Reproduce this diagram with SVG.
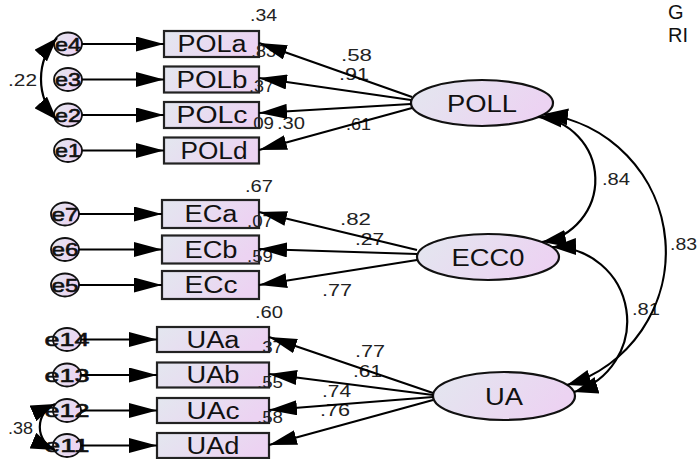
<svg xmlns="http://www.w3.org/2000/svg" width="697" height="459" viewBox="0 0 697 459">
<defs>
<linearGradient id="gf" x1="0" y1="0" x2="1" y2="0.3">
<stop offset="0" stop-color="#e3e7ef"/>
<stop offset="1" stop-color="#ecd3f2"/>
</linearGradient>
<marker id="ah" markerUnits="userSpaceOnUse" markerWidth="30" markerHeight="15" refX="28" refY="7.5" orient="auto-start-reverse" viewBox="0 0 30 15">
<path d="M0,0 L28,7.5 L0,15 z" fill="#000"/>
</marker>
<marker id="ac" markerUnits="userSpaceOnUse" markerWidth="26" markerHeight="17" refX="24" refY="8.5" orient="auto-start-reverse" viewBox="0 0 26 17">
<path d="M0,0 L24,8.5 L0,17 z" fill="#000"/>
</marker>
</defs>
<style>
.box{fill:url(#gf);stroke:#222;stroke-width:2.2}
.lat{fill:url(#gf);stroke:#111;stroke-width:2.2}
.err{fill:url(#gf);stroke:#111;stroke-width:1.8}
.t{font-family:"Liberation Sans",Arial,sans-serif;fill:#111}
.nl{font-size:23px;text-anchor:middle}
.ll{font-size:24px;text-anchor:middle}
.el{font-size:19px;text-anchor:middle;stroke:#111;stroke-width:0.6}
.v{font-size:16px;fill:#222}
.c line,.c path{stroke:#000;stroke-width:2.2;fill:none}
.c line{marker-end:url(#ah)}
.c path.cov{marker-start:url(#ac);marker-end:url(#ac)}
</style>

<!-- latent variables -->
<g id="POLL"><ellipse class="lat" cx="482" cy="103" rx="71" ry="23"/><text class="t ll" x="482" y="112" textLength="70" lengthAdjust="spacingAndGlyphs">POLL</text></g>
<g id="ECC0"><ellipse class="lat" cx="488" cy="257" rx="71" ry="23"/><text class="t ll" x="488" y="266" textLength="73" lengthAdjust="spacingAndGlyphs">ECC0</text></g>
<g id="UA"><ellipse class="lat" cx="504" cy="396" rx="71" ry="24"/><text class="t ll" x="504" y="405" textLength="38" lengthAdjust="spacingAndGlyphs">UA</text></g>

<!-- observed: POLL -->
<g id="POLa"><rect class="box" x="164" y="31" width="95" height="26"/><text class="t nl" x="212" y="52" textLength="69" lengthAdjust="spacingAndGlyphs">POLa</text></g>
<g id="POLb"><rect class="box" x="164" y="66.5" width="95" height="26"/><text class="t nl" x="212" y="87.5" textLength="71" lengthAdjust="spacingAndGlyphs">POLb</text></g>
<g id="POLc"><rect class="box" x="164" y="102" width="95" height="26"/><text class="t nl" x="212" y="123" textLength="71" lengthAdjust="spacingAndGlyphs">POLc</text></g>
<g id="POLd"><rect class="box" x="164" y="137.5" width="95" height="26"/><text class="t nl" x="214" y="158.5" textLength="67" lengthAdjust="spacingAndGlyphs">POLd</text></g>

<!-- observed: ECC0 -->
<g id="ECa"><rect class="box" x="162" y="200" width="97" height="28"/><text class="t nl" x="211" y="222" textLength="53" lengthAdjust="spacingAndGlyphs">ECa</text></g>
<g id="ECb"><rect class="box" x="162" y="235.5" width="97" height="28"/><text class="t nl" x="211" y="257.5" textLength="53" lengthAdjust="spacingAndGlyphs">ECb</text></g>
<g id="ECc"><rect class="box" x="162" y="271" width="97" height="28"/><text class="t nl" x="211" y="293" textLength="53" lengthAdjust="spacingAndGlyphs">ECc</text></g>

<!-- observed: UA -->
<g id="UAa"><rect class="box" x="157" y="327" width="112" height="25"/><text class="t nl" x="213" y="347.5" textLength="53" lengthAdjust="spacingAndGlyphs">UAa</text></g>
<g id="UAb"><rect class="box" x="157" y="362.5" width="112" height="25"/><text class="t nl" x="213" y="383" textLength="53" lengthAdjust="spacingAndGlyphs">UAb</text></g>
<g id="UAc"><rect class="box" x="157" y="398" width="112" height="25"/><text class="t nl" x="213" y="418.5" textLength="53" lengthAdjust="spacingAndGlyphs">UAc</text></g>
<g id="UAd"><rect class="box" x="157" y="433" width="112" height="25"/><text class="t nl" x="213" y="453.5" textLength="53" lengthAdjust="spacingAndGlyphs">UAd</text></g>

<!-- error terms -->
<g id="e4"><ellipse class="err" cx="68" cy="44" rx="14" ry="11.5"/><text class="t el" x="68" y="50.5" textLength="26" lengthAdjust="spacingAndGlyphs">e4</text></g>
<g id="e3"><ellipse class="err" cx="68" cy="79.5" rx="14" ry="11.5"/><text class="t el" x="68" y="86" textLength="26" lengthAdjust="spacingAndGlyphs">e3</text></g>
<g id="e2"><ellipse class="err" cx="68" cy="115" rx="14" ry="11.5"/><text class="t el" x="68" y="121.5" textLength="26" lengthAdjust="spacingAndGlyphs">e2</text></g>
<g id="e1"><ellipse class="err" cx="68" cy="150.5" rx="14" ry="11.5"/><text class="t el" x="68" y="157" textLength="26" lengthAdjust="spacingAndGlyphs">e1</text></g>
<g id="e7"><ellipse class="err" cx="65" cy="214" rx="14" ry="11.5"/><text class="t el" x="65" y="220.5" textLength="27" lengthAdjust="spacingAndGlyphs">e7</text></g>
<g id="e6"><ellipse class="err" cx="65" cy="249.5" rx="14" ry="11.5"/><text class="t el" x="65" y="256" textLength="27" lengthAdjust="spacingAndGlyphs">e6</text></g>
<g id="e5"><ellipse class="err" cx="65" cy="285" rx="14" ry="11.5"/><text class="t el" x="65" y="291.5" textLength="27" lengthAdjust="spacingAndGlyphs">e5</text></g>
<g id="e14"><ellipse class="err" cx="67" cy="339.5" rx="14" ry="11.5"/><text class="t el" x="67" y="346" textLength="45" lengthAdjust="spacingAndGlyphs">e14</text></g>
<g id="e13"><ellipse class="err" cx="67" cy="375" rx="14" ry="11.5"/><text class="t el" x="67" y="381.5" textLength="45" lengthAdjust="spacingAndGlyphs">e13</text></g>
<g id="e12"><ellipse class="err" cx="67" cy="410.5" rx="14" ry="11.5"/><text class="t el" x="67" y="417" textLength="45" lengthAdjust="spacingAndGlyphs">e12</text></g>
<g id="e11"><ellipse class="err" cx="67" cy="445.5" rx="14" ry="11.5"/><text class="t el" x="67" y="452" textLength="45" lengthAdjust="spacingAndGlyphs">e11</text></g>

<!-- estimates -->
<g id="labels" class="t v">
<text x="250" y="21" textLength="27" lengthAdjust="spacingAndGlyphs">.34</text>
<text x="251" y="57" textLength="25" lengthAdjust="spacingAndGlyphs">.83</text>
<text x="249" y="92" textLength="25" lengthAdjust="spacingAndGlyphs">.37</text>
<text x="248" y="129" textLength="26" lengthAdjust="spacingAndGlyphs">.09</text>
<text x="277" y="129" textLength="28" lengthAdjust="spacingAndGlyphs">.30</text>
<text x="341" y="61" textLength="31" lengthAdjust="spacingAndGlyphs">.58</text>
<text x="339" y="80" textLength="30" lengthAdjust="spacingAndGlyphs">.91</text>
<text x="346" y="130" textLength="25" lengthAdjust="spacingAndGlyphs">.61</text>
<text x="245" y="192" textLength="28" lengthAdjust="spacingAndGlyphs">.67</text>
<text x="247" y="227" textLength="26" lengthAdjust="spacingAndGlyphs">.07</text>
<text x="247" y="262" textLength="26" lengthAdjust="spacingAndGlyphs">.59</text>
<text x="340" y="225" textLength="31" lengthAdjust="spacingAndGlyphs">.82</text>
<text x="355" y="245" textLength="29" lengthAdjust="spacingAndGlyphs">.27</text>
<text x="322" y="296" textLength="30" lengthAdjust="spacingAndGlyphs">.77</text>
<text x="255" y="318" textLength="28" lengthAdjust="spacingAndGlyphs">.60</text>
<text x="257" y="353" textLength="26" lengthAdjust="spacingAndGlyphs">.37</text>
<text x="257" y="388" textLength="26" lengthAdjust="spacingAndGlyphs">.55</text>
<text x="257" y="423" textLength="26" lengthAdjust="spacingAndGlyphs">.58</text>
<text x="355" y="357" textLength="30" lengthAdjust="spacingAndGlyphs">.77</text>
<text x="353" y="377" textLength="29" lengthAdjust="spacingAndGlyphs">.61</text>
<text x="322" y="397" textLength="29" lengthAdjust="spacingAndGlyphs">.74</text>
<text x="320" y="416" textLength="30" lengthAdjust="spacingAndGlyphs">.76</text>
<text x="602" y="185" textLength="28" lengthAdjust="spacingAndGlyphs">.84</text>
<text x="670" y="250" textLength="27" lengthAdjust="spacingAndGlyphs">.83</text>
<text x="632" y="315" textLength="28" lengthAdjust="spacingAndGlyphs">.81</text>
<text x="8" y="86" textLength="29" lengthAdjust="spacingAndGlyphs">.22</text>
<text x="8" y="434" textLength="25" lengthAdjust="spacingAndGlyphs">.38</text>
</g>
<g id="fit" class="t" style="font-size:20px">
<text x="668" y="19">G</text>
<text x="668" y="42">RI</text>
</g>

<!-- connectors -->
<g id="connectors" class="c">
<line x1="82" y1="44" x2="164" y2="44"/>
<line x1="82" y1="79.5" x2="164" y2="79.5"/>
<line x1="82" y1="115" x2="164" y2="115"/>
<line x1="82" y1="150.5" x2="164" y2="150.5"/>
<line x1="79" y1="214" x2="162" y2="214"/>
<line x1="79" y1="249.5" x2="162" y2="249.5"/>
<line x1="79" y1="285" x2="162" y2="285"/>
<line x1="81" y1="339.5" x2="157" y2="339.5"/>
<line x1="81" y1="375" x2="157" y2="375"/>
<line x1="81" y1="410.5" x2="157" y2="410.5"/>
<line x1="81" y1="445.5" x2="157" y2="445.5"/>
<line x1="412" y1="97" x2="259" y2="43"/>
<line x1="411" y1="100" x2="259" y2="78"/>
<line x1="411" y1="104" x2="259" y2="113"/>
<line x1="412" y1="108" x2="259" y2="150"/>
<line x1="417" y1="250" x2="259" y2="212"/>
<line x1="417" y1="254" x2="259" y2="249"/>
<line x1="417" y1="260" x2="259" y2="285"/>
<line x1="433" y1="393" x2="269" y2="337"/>
<line x1="433" y1="395" x2="269" y2="374"/>
<line x1="433" y1="397" x2="269" y2="410"/>
<line x1="433" y1="400" x2="269" y2="445"/>
<path class="cov" d="M538,117 A63,63 0 0 1 542,242"/>
<path class="cov" d="M544,114 A139,139 0 0 1 567,385"/>
<path class="cov" d="M552,247 A74,74 0 0 1 574,392"/>
<path class="cov" d="M57,38 A60.5,60.5 0 0 0 57,120"/>
<path class="cov" d="M55,404 A25,25 0 0 0 55,450"/>
</g>
</svg>
